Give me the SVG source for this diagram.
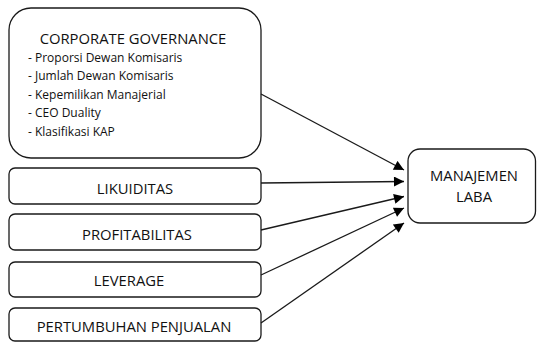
<svg xmlns="http://www.w3.org/2000/svg" width="537" height="343" viewBox="0 0 537 343">
<style>
.box{fill:#fff;stroke:#1a1a1a;stroke-width:1.3}
.t{font-family:"Open Sans","Liberation Sans",sans-serif;fill:#111;text-anchor:middle;font-size:14.8px}
.b{font-family:"Open Sans","Liberation Sans",sans-serif;fill:#111;font-size:12px}
.c{stroke:#1a1a1a;stroke-width:1.3;fill:none;marker-end:url(#ah)}
</style>
<defs>
<marker id="ah" viewBox="0 0 10 10" refX="10" refY="5" markerWidth="11" markerHeight="10" markerUnits="userSpaceOnUse" orient="auto">
<path d="M0,0 L10,5 L0,10 Z" fill="#000"/>
</marker>
</defs>
<rect width="537" height="343" fill="#fff"/>
<g id="corporate-governance">
<rect class="box" x="9" y="8" width="252" height="150" rx="22"/>
<text class="t" x="133" y="44" font-size="14.5">CORPORATE GOVERNANCE</text>
<text class="b" x="28" y="62">- Proporsi Dewan Komisaris</text>
<text class="b" x="28" y="80">- Jumlah Dewan Komisaris</text>
<text class="b" x="28" y="98.5">- Kepemilikan Manajerial</text>
<text class="b" x="28" y="117">- CEO Duality</text>
<text class="b" x="28" y="135.5">- Klasifikasi KAP</text>
</g>
<g id="likuiditas">
<rect class="box" x="9" y="168" width="252" height="36" rx="6"/>
<text class="t" x="135" y="193.5">LIKUIDITAS</text>
</g>
<g id="profitabilitas">
<rect class="box" x="9" y="214" width="252" height="36" rx="6"/>
<text class="t" x="137" y="239.5">PROFITABILITAS</text>
</g>
<g id="leverage">
<rect class="box" x="9" y="262" width="252" height="35" rx="6"/>
<text class="t" x="129" y="286">LEVERAGE</text>
</g>
<g id="pertumbuhan-penjualan">
<rect class="box" x="9" y="308" width="252" height="33" rx="6"/>
<text class="t" x="134" y="332">PERTUMBUHAN PENJUALAN</text>
</g>
<g id="manajemen-laba">
<rect class="box" x="408" y="149" width="127.5" height="74" rx="12"/>
<text class="t" x="474" y="180.5">MANAJEMEN</text>
<text class="t" x="474" y="202">LABA</text>
</g>
<g id="connectors">
<line class="c" x1="261" y1="94" x2="404" y2="170"/>
<line class="c" x1="261" y1="183" x2="404" y2="181.5"/>
<line class="c" x1="261" y1="230" x2="404" y2="196.5"/>
<line class="c" x1="261" y1="275" x2="404" y2="208"/>
<line class="c" x1="261" y1="323" x2="404" y2="223"/>
</g>
</svg>
